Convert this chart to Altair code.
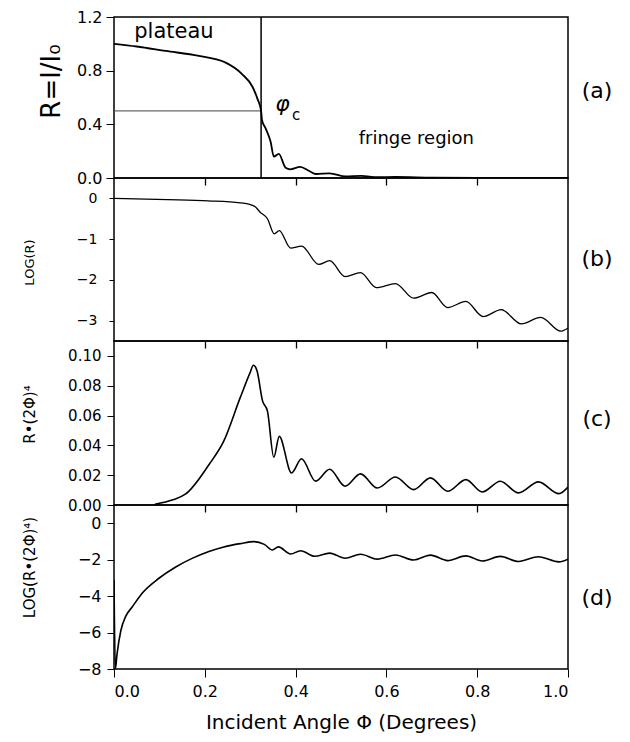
import altair as alt
import pandas as pd

# ---------------- data ----------------
# (a) R = I/I0
a_x = [0.0, 0.05, 0.114, 0.187, 0.246, 0.282, 0.305, 0.316, 0.324, 0.326, 0.334, 0.345,
       0.352, 0.363, 0.378, 0.388, 0.41, 0.43, 0.445, 0.475, 0.51, 0.545, 0.58, 0.62, 0.7, 0.8, 1.0]
a_y = [1.0, 0.98, 0.947, 0.91, 0.86, 0.775, 0.68, 0.59, 0.50, 0.43, 0.37, 0.27,
       0.16, 0.18, 0.076, 0.065, 0.083, 0.052, 0.03, 0.035, 0.012, 0.016, 0.006, 0.008, 0.003, 0.001, 0.0]

# (b) LOG(R)
b_x = [0.0, 0.118, 0.207, 0.278, 0.309, 0.322, 0.338, 0.353, 0.364, 0.389, 0.413, 0.451, 0.475,
       0.509, 0.543, 0.578, 0.62, 0.66, 0.70, 0.735, 0.775, 0.813, 0.853, 0.897, 0.94, 0.984, 1.0]
b_y = [0.0, -0.03, -0.06, -0.11, -0.19, -0.34, -0.50, -0.87, -0.79, -1.22, -1.17, -1.62, -1.53,
       -1.92, -1.82, -2.19, -2.09, -2.45, -2.31, -2.68, -2.53, -2.90, -2.73, -3.08, -2.92, -3.26, -3.18]

# (c) R*(2Phi)^4
c_x = [0.09, 0.13, 0.158, 0.209, 0.242, 0.278, 0.30, 0.307, 0.315, 0.327, 0.338, 0.352, 0.364,
       0.391, 0.413, 0.444, 0.475, 0.509, 0.543, 0.580, 0.620, 0.660, 0.697, 0.735, 0.775,
       0.811, 0.851, 0.891, 0.935, 0.980, 1.0]
c_y = [0.0005, 0.0035, 0.0074, 0.027, 0.043, 0.072, 0.089, 0.0937, 0.090, 0.070, 0.063, 0.032, 0.046,
       0.0215, 0.031, 0.016, 0.024, 0.0126, 0.0209, 0.0114, 0.0188, 0.0103, 0.0182, 0.0092, 0.017,
       0.0087, 0.0159, 0.0081, 0.0155, 0.0076, 0.012]

# (d) LOG(R*(2Phi)^4)
d_x = [0.0, 0.003, 0.0066, 0.015, 0.026, 0.04, 0.062, 0.099, 0.136, 0.172, 0.209, 0.242, 0.278,
       0.309, 0.331, 0.349, 0.362, 0.389, 0.411, 0.442, 0.475, 0.509, 0.543, 0.580, 0.62, 0.66,
       0.697, 0.735, 0.775, 0.811, 0.851, 0.891, 0.935, 0.98, 1.0]
d_y = [-3.1, -8.0, -7.2, -5.9, -5.1, -4.6, -3.84, -3.02, -2.4, -1.93, -1.55, -1.3, -1.12,
       -1.01, -1.16, -1.47, -1.30, -1.69, -1.51, -1.81, -1.64, -1.92, -1.70, -1.97, -1.74, -2.02,
       -1.75, -2.05, -1.79, -2.07, -1.82, -2.10, -1.84, -2.12, -1.97]

phi_c = 0.324
x_ticks = [0.0, 0.2, 0.4, 0.6, 0.8, 1.0]
inner_x_ticks = [0.2, 0.4, 0.6, 0.8]
a_ticks = [0.0, 0.2, 0.4, 0.6, 0.8, 1.0, 1.2]
b_ticks = [0, -1, -2, -3]
c_ticks = [0.0, 0.02, 0.04, 0.06, 0.08, 0.10]
d_ticks = [0, -2, -4, -6, -8]

FONT = "DejaVu Sans"
W = 454

xscale = alt.Scale(domain=[0, 1], nice=False, zero=False)


def x_hidden():
    return alt.X("x:Q", scale=xscale,
                 axis=alt.Axis(values=inner_x_ticks, labels=False, title=None,
                               tickSize=7, domain=False, grid=False, tickWidth=1.3))


def curve(xs, ys, yenc, xenc, width):
    df = pd.DataFrame({"x": xs, "y": ys})
    return alt.Chart(df).mark_line(color="black", strokeWidth=width,
                                   interpolate="monotone", clip=True).encode(x=xenc, y=yenc)


def side_label(text, ypos):
    return alt.Chart(pd.DataFrame({"t": [text]})).mark_text(
        font=FONT, fontSize=22, align="center", baseline="middle", color="black"
    ).encode(text="t:N", x=alt.value(W + 29), y=alt.value(ypos))


# ---------------- panel (a) ----------------
ya = alt.Y("y:Q", scale=alt.Scale(domain=[0, 1.2], nice=False),
           axis=alt.Axis(values=a_ticks, format=".1f", title="R=I/I₀", titleFontSize=26,
                         titleFontWeight="normal", titleX=-50, titleY=64,
                         labelFontSize=16, labelPadding=4, tickSize=8, domain=False, grid=False))
line_a = curve(a_x, a_y, ya, x_hidden(), 1.8)

vline = alt.Chart(pd.DataFrame({"x": [phi_c], "y": [0.0], "y2": [1.2]})).mark_rule(
    color="black", strokeWidth=1.5).encode(x="x:Q", y="y:Q", y2="y2:Q")
hline = alt.Chart(pd.DataFrame({"x": [0.0], "x2": [phi_c], "y": [0.5]})).mark_rule(
    color="#444444", strokeWidth=1.0).encode(x="x:Q", x2="x2:Q", y="y:Q")

ann = pd.DataFrame({
    "x": [0.132, 0.666],
    "y": [1.09, 0.287],
    "t": ["plateau", "fringe region"],
})
txt_a1 = alt.Chart(ann.iloc[[0]]).mark_text(font=FONT, fontSize=21, align="center",
                                            baseline="middle", color="black").encode(
    x="x:Q", y="y:Q", text="t:N")
txt_a2 = alt.Chart(ann.iloc[[1]]).mark_text(font=FONT, fontSize=18, align="center",
                                            baseline="middle", color="black").encode(
    x="x:Q", y="y:Q", text="t:N")
phi_txt = alt.Chart(pd.DataFrame({"x": [0.355], "y": [0.55], "t": ["φ"]})).mark_text(
    font=FONT, fontSize=22, align="left", baseline="middle", color="black", fontStyle="italic").encode(
    x="x:Q", y="y:Q", text="t:N")
c_txt = alt.Chart(pd.DataFrame({"x": [0.392], "y": [0.47], "t": ["c"]})).mark_text(
    font=FONT, fontSize=15, align="left", baseline="middle", color="black").encode(
    x="x:Q", y="y:Q", text="t:N")

panel_a = alt.layer(hline, vline, line_a, txt_a1, txt_a2, phi_txt, c_txt,
                    side_label("(a)", 74)).properties(width=W, height=161)

# ---------------- panel (b) ----------------
yb = alt.Y("y:Q", scale=alt.Scale(domain=[-3.5, 0.5], nice=False),
           axis=alt.Axis(values=b_ticks, format="d", title="LOG(R)", titleFontSize=13,
                         titleFontWeight="normal", titleX=-78, titleY=84,
                         labelFontSize=14, labelPadding=12, tickSize=5, domain=False, grid=False))
panel_b = alt.layer(curve(b_x, b_y, yb, x_hidden(), 1.3),
                    side_label("(b)", 81)).properties(width=W, height=163)

# ---------------- panel (c) ----------------
yc = alt.Y("y:Q", scale=alt.Scale(domain=[0, 0.11], nice=False),
           axis=alt.Axis(values=c_ticks, format=".2f", title="R•(2Φ)⁴", titleFontSize=15,
                         titleFontWeight="normal", titleX=-77, titleY=73,
                         labelFontSize=15, labelPadding=6, tickSize=7, domain=False, grid=False))
panel_c = alt.layer(curve(c_x, c_y, yc, x_hidden(), 1.6),
                    side_label("(c)", 78)).properties(width=W, height=164)

# ---------------- panel (d) ----------------
xd = alt.X("x:Q", scale=xscale,
           axis=alt.Axis(values=x_ticks, format=".1f", title="Incident Angle Φ (Degrees)",
                         titleFontSize=20, titleFontWeight="normal", titlePadding=13,
                         labelFontSize=16, labelPadding=6, tickSize=8, domain=False, grid=False))
yd = alt.Y("y:Q", scale=alt.Scale(domain=[-8, 1], nice=False),
           axis=alt.Axis(values=d_ticks, format="d", title="LOG(R•(2Φ)⁴)", titleFontSize=15,
                         titleFontWeight="normal", titleX=-77, titleY=62,
                         labelFontSize=16, labelPadding=6, tickSize=7, domain=False, grid=False))
panel_d = alt.layer(curve(d_x, d_y, yd, xd, 1.6),
                    side_label("(d)", 93)).properties(width=W, height=164)

chart = alt.vconcat(panel_a, panel_b, panel_c, panel_d, spacing=0, bounds="flush").properties(
    padding={"left": 13, "top": 0, "right": 5, "bottom": 5},
    background="white",
).configure_view(
    stroke="black", strokeWidth=1.5
).configure_axis(
    labelFont=FONT, titleFont=FONT, labelColor="black", titleColor="black",
    tickColor="black"
)

chart.save("out.html", embed_options={"renderer": "svg", "actions": False})
